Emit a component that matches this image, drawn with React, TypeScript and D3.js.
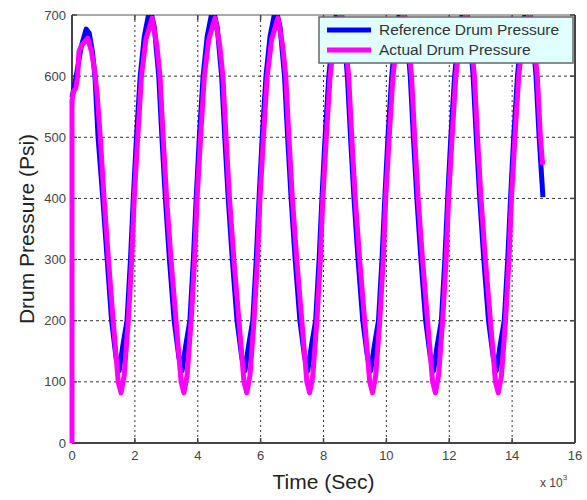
import React, { useRef, useEffect } from 'react';
import * as d3 from 'd3';

// time in units of 10^3 sec, pressure in psi
const referencePressure: [number, number][] = [
  [0, 565], [0.1, 590], [0.2, 620], [0.3, 650], [0.45, 677], [0.55, 670], [0.65, 640], [0.73, 600], [0.83, 500], [0.98, 400], [1.12, 300], [1.26, 200], [1.4, 140], [1.5, 118],
  [1.62, 160], [1.75, 200], [1.86, 300], [1.95, 400], [2.05, 500], [2.17, 600], [2.3, 665], [2.48, 712], [2.62, 680], [2.76, 600], [2.86, 500], [2.97, 400], [3.1, 300], [3.25, 200], [3.4, 140], [3.5, 118],
  [3.62, 160], [3.75, 200], [3.86, 300], [3.95, 400], [4.05, 500], [4.17, 600], [4.3, 665], [4.48, 712], [4.62, 680], [4.76, 600], [4.86, 500], [4.97, 400], [5.1, 300], [5.25, 200], [5.4, 140], [5.5, 118],
  [5.62, 160], [5.75, 200], [5.86, 300], [5.95, 400], [6.05, 500], [6.17, 600], [6.3, 665], [6.48, 712], [6.62, 680], [6.76, 600], [6.86, 500], [6.97, 400], [7.1, 300], [7.25, 200], [7.4, 140], [7.5, 118],
  [7.62, 160], [7.75, 200], [7.86, 300], [7.95, 400], [8.05, 500], [8.17, 600], [8.3, 670], [8.48, 720], [8.62, 690], [8.76, 600], [8.86, 500], [8.97, 400], [9.1, 300], [9.25, 200], [9.4, 140], [9.5, 118],
  [9.62, 160], [9.75, 200], [9.86, 300], [9.95, 400], [10.05, 500], [10.17, 600], [10.3, 670], [10.48, 720], [10.62, 690], [10.76, 600], [10.86, 500], [10.97, 400], [11.1, 300], [11.25, 200], [11.4, 140], [11.5, 118],
  [11.62, 160], [11.75, 200], [11.86, 300], [11.95, 400], [12.05, 500], [12.17, 600], [12.3, 670], [12.48, 720], [12.62, 690], [12.76, 600], [12.86, 500], [12.97, 400], [13.1, 300], [13.25, 200], [13.4, 140], [13.5, 118],
  [13.62, 160], [13.75, 200], [13.86, 300], [13.95, 400], [14.05, 500], [14.17, 600], [14.3, 670], [14.48, 720], [14.62, 690], [14.76, 600], [14.86, 500], [14.98, 402],
];

const actualPressure: [number, number][] = [
  [0, 0], [0, 560], [0.05, 575], [0.12, 580], [0.18, 600], [0.22, 640], [0.3, 650], [0.5, 662], [0.62, 640], [0.72, 610], [0.8, 570], [0.9, 500], [1.02, 400], [1.16, 300], [1.31, 200], [1.47, 100], [1.56, 82],
  [1.66, 110], [1.79, 200], [1.9, 300], [1.98, 400], [2.09, 500], [2.21, 600], [2.35, 660], [2.55, 695], [2.7, 650], [2.8, 600], [2.9, 500], [3.01, 400], [3.15, 300], [3.31, 200], [3.47, 100], [3.56, 82],
  [3.66, 110], [3.79, 200], [3.9, 300], [3.98, 400], [4.09, 500], [4.21, 600], [4.35, 660], [4.55, 695], [4.7, 650], [4.8, 600], [4.9, 500], [5.01, 400], [5.15, 300], [5.31, 200], [5.47, 100], [5.56, 82],
  [5.66, 110], [5.79, 200], [5.9, 300], [5.98, 400], [6.09, 500], [6.21, 600], [6.35, 660], [6.55, 695], [6.7, 650], [6.8, 600], [6.9, 500], [7.01, 400], [7.15, 300], [7.31, 200], [7.47, 100], [7.56, 82],
  [7.66, 110], [7.79, 200], [7.9, 300], [7.98, 400], [8.09, 500], [8.21, 600], [8.35, 665], [8.55, 705], [8.7, 655], [8.8, 600], [8.9, 500], [9.01, 400], [9.15, 300], [9.31, 200], [9.47, 100], [9.56, 82],
  [9.66, 110], [9.79, 200], [9.9, 300], [9.98, 400], [10.09, 500], [10.21, 600], [10.35, 665], [10.55, 705], [10.7, 655], [10.8, 600], [10.9, 500], [11.01, 400], [11.15, 300], [11.31, 200], [11.47, 100], [11.56, 82],
  [11.66, 110], [11.79, 200], [11.9, 300], [11.98, 400], [12.09, 500], [12.21, 600], [12.35, 665], [12.55, 705], [12.7, 655], [12.8, 600], [12.9, 500], [13.01, 400], [13.15, 300], [13.31, 200], [13.47, 100], [13.56, 82],
  [13.66, 110], [13.79, 200], [13.9, 300], [13.98, 400], [14.09, 500], [14.21, 600], [14.35, 665], [14.55, 705], [14.7, 655], [14.8, 600], [14.9, 500], [14.97, 455],
];

const xTicks = [0, 2, 4, 6, 8, 10, 12, 14, 16];
const yTicks = [0, 100, 200, 300, 400, 500, 600, 700];
const seriesNames = ['Reference Drum Pressure', 'Actual Drum Pressure'];
const seriesColors = ['#0000ff', '#ff00ff'];

const App = () => {
  const svgRef = useRef<SVGSVGElement>(null);
  const width = 587;
  const height = 500;
  const margin = { top: 15, right: 12, bottom: 57, left: 72 };

  useEffect(() => {
    const svg = d3.select(svgRef.current);
    svg.selectAll('*').remove();

    const innerWidth = width - margin.left - margin.right;
    const innerHeight = height - margin.top - margin.bottom;
    const font = 'Liberation Sans, Arial, sans-serif';

    const x = d3.scaleLinear().domain([0, 16]).range([0, innerWidth]);
    const y = d3.scaleLinear().domain([0, 700]).range([innerHeight, 0]);

    svg.append('rect').attr('width', width).attr('height', height).attr('fill', '#fff');

    const g = svg.append('g').attr('transform', `translate(${margin.left},${margin.top})`);

    // clip only at the top, let the lines sit over the left axis
    g.append('defs').append('clipPath').attr('id', 'plot-clip')
      .append('rect').attr('x', -4).attr('width', innerWidth + 4).attr('height', innerHeight + 4);

    // grid
    g.append('g').selectAll('line').data(xTicks.slice(1, -1)).enter().append('line')
      .attr('x1', d => x(d)).attr('x2', d => x(d)).attr('y1', 0).attr('y2', innerHeight)
      .attr('stroke', '#333').attr('stroke-width', 1).attr('stroke-dasharray', '2,3');
    g.append('g').selectAll('line').data(yTicks.slice(1, -1)).enter().append('line')
      .attr('y1', d => y(d)).attr('y2', d => y(d)).attr('x1', 0).attr('x2', innerWidth)
      .attr('stroke', '#333').attr('stroke-width', 1).attr('stroke-dasharray', '3,3');

    // box and ticks
    g.append('line').attr('x1', 0).attr('x2', innerWidth).attr('y1', 0).attr('y2', 0)
      .attr('stroke', '#aaa').attr('stroke-width', 2);
    g.append('line').attr('x1', innerWidth).attr('x2', innerWidth).attr('y1', 0).attr('y2', innerHeight)
      .attr('stroke', '#444').attr('stroke-width', 2);
    g.append('line').attr('x1', 0).attr('x2', 0).attr('y1', 0).attr('y2', innerHeight)
      .attr('stroke', '#444').attr('stroke-width', 2);
    g.append('line').attr('x1', 0).attr('x2', innerWidth).attr('y1', innerHeight).attr('y2', innerHeight)
      .attr('stroke', '#444').attr('stroke-width', 2);

    const tickLen = 5;
    xTicks.forEach(t => {
      g.append('line').attr('x1', x(t)).attr('x2', x(t)).attr('y1', innerHeight).attr('y2', innerHeight - tickLen)
        .attr('stroke', '#444').attr('stroke-width', 1.5);
      g.append('line').attr('x1', x(t)).attr('x2', x(t)).attr('y1', 0).attr('y2', tickLen)
        .attr('stroke', '#444').attr('stroke-width', 1.5);
      g.append('text').attr('x', x(t)).attr('y', innerHeight + 17)
        .attr('text-anchor', 'middle').attr('font-family', font).attr('font-size', 13)
        .attr('fill', '#444').text(t);
    });
    yTicks.forEach(t => {
      g.append('line').attr('x1', 0).attr('x2', tickLen).attr('y1', y(t)).attr('y2', y(t))
        .attr('stroke', '#444').attr('stroke-width', 1.5);
      g.append('line').attr('x1', innerWidth).attr('x2', innerWidth - tickLen).attr('y1', y(t)).attr('y2', y(t))
        .attr('stroke', '#444').attr('stroke-width', 1.5);
      g.append('text').attr('x', -6).attr('y', y(t)).attr('dy', '0.35em')
        .attr('text-anchor', 'end').attr('font-family', font).attr('font-size', 13)
        .attr('fill', '#444').text(t);
    });

    // lines
    const line = d3.line<[number, number]>()
      .x(d => x(d[0]))
      .y(d => y(d[1]));

    const lines = g.append('g').attr('clip-path', 'url(#plot-clip)');
    [referencePressure, actualPressure].forEach((series, i) => {
      lines.append('path')
        .datum(series)
        .attr('fill', 'none')
        .attr('stroke', seriesColors[i])
        .attr('stroke-width', 5)
        .attr('stroke-linejoin', 'round')
        .attr('d', line);
    });

    // exponent label
    const expo = g.append('text').attr('x', innerWidth - 35).attr('y', innerHeight + 44)
      .attr('font-family', font).attr('font-size', 12).attr('fill', '#444');
    expo.append('tspan').text('x 10');
    expo.append('tspan').attr('dy', -7).attr('font-size', 8).text('3');

    // axis titles
    svg.append('text').attr('x', margin.left + innerWidth / 2).attr('y', 489)
      .attr('text-anchor', 'middle').attr('font-family', font).attr('font-size', 21)
      .attr('fill', '#222').text('Time (Sec)');
    svg.append('text').attr('transform', `translate(34,${margin.top + innerHeight / 2}) rotate(-90)`)
      .attr('text-anchor', 'middle').attr('font-family', font).attr('font-size', 21)
      .attr('fill', '#222').text('Drum Pressure (Psi)');

    // legend
    const legend = g.append('g').attr('transform', `translate(${innerWidth - 256},2)`);
    legend.append('rect').attr('width', 254).attr('height', 46)
      .attr('fill', '#e0ffff').attr('stroke', '#666').attr('stroke-width', 1.5);
    seriesNames.forEach((name, i) => {
      const ly = 13 + i * 20;
      legend.append('line').attr('x1', 8).attr('x2', 52).attr('y1', ly).attr('y2', ly)
        .attr('stroke', seriesColors[i]).attr('stroke-width', 5);
      legend.append('text').attr('x', 60).attr('y', ly).attr('dy', '0.35em')
        .attr('font-family', font).attr('font-size', 15.5).attr('fill', '#333').text(name);
    });
  }, []);

  return (
    <div style={{ position: 'absolute', left: 0, top: 0 }}>
      <svg ref={svgRef} width={width} height={height}></svg>
    </div>
  );
};

export default App;
